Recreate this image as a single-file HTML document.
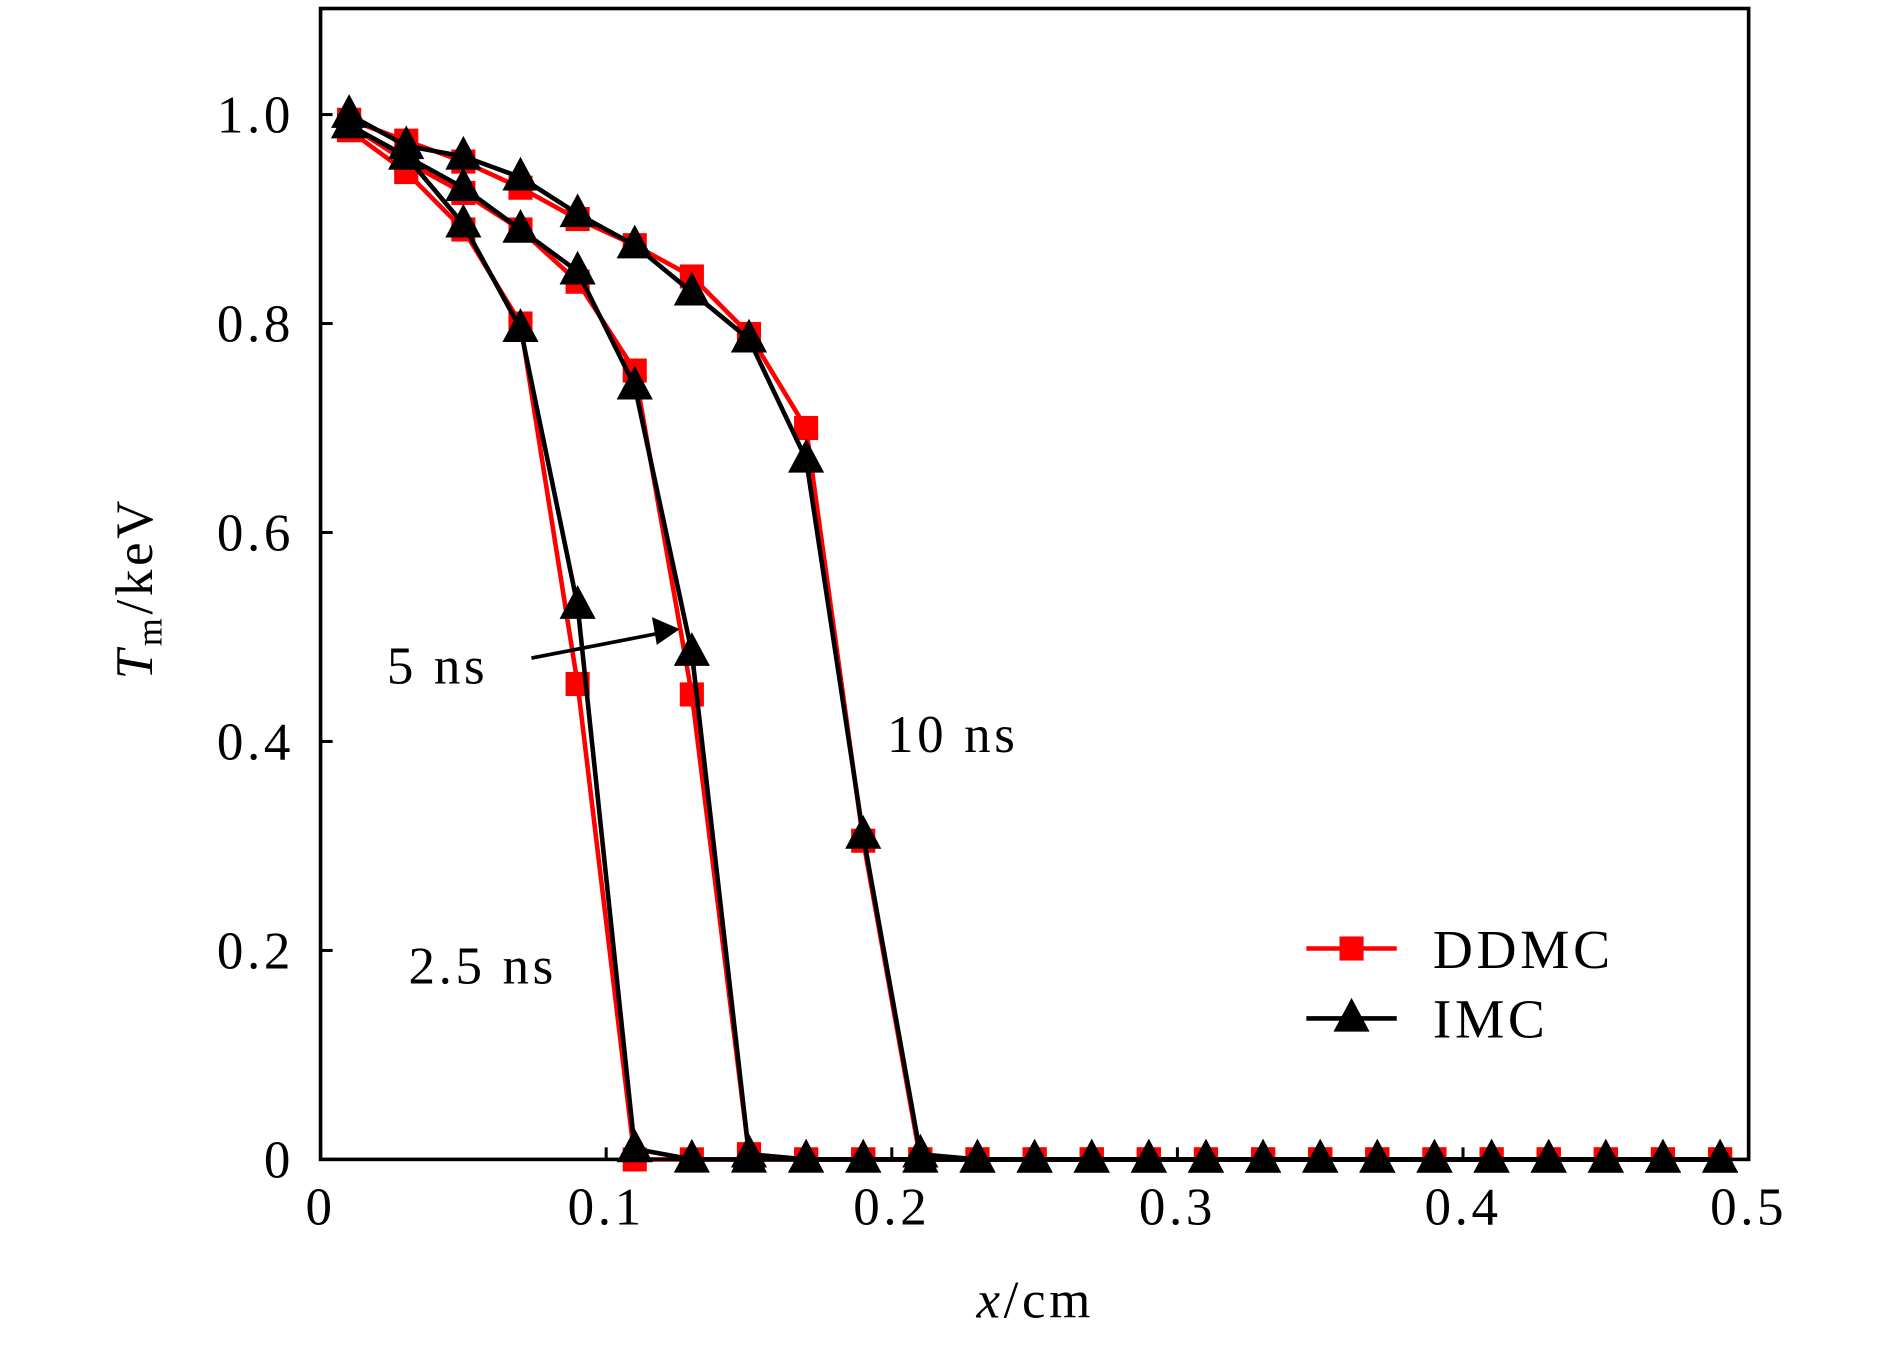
<!DOCTYPE html>
<html><head><meta charset="utf-8"><style>
html,body{margin:0;padding:0;background:#fff;}
svg{display:block;font-family:"Liberation Serif",serif;}
</style></head><body>
<svg id="chart" width="1890" height="1347" viewBox="-1 0 1568.3 1117.6" xmlns="http://www.w3.org/2000/svg">
<g id="marks"></g>
<g id="axes"></g>
</svg>
<script>
const xVals = [0.01,0.03,0.05,0.07,0.09,0.11,0.13,0.15,0.17,0.19,0.21,0.23,0.25,0.27,0.29,0.31,0.33,0.35,0.37,0.39,0.41,0.43,0.45,0.47,0.49];
const ddmc25 = [0.985,0.945,0.89,0.80,0.455,0.0,0,0,0,0,0,0,0,0,0,0,0,0,0,0,0,0,0,0,0];
const imc25  = [0.99,0.96,0.895,0.795,0.53,0.01,0,0,0,0,0,0,0,0,0,0,0,0,0,0,0,0,0,0,0];
const ddmc5  = [0.99,0.955,0.925,0.89,0.84,0.755,0.445,0.005,0,0,0,0,0,0,0,0,0,0,0,0,0,0,0,0,0];
const imc5   = [0.99,0.96,0.93,0.89,0.85,0.74,0.485,0.005,0,0,0,0,0,0,0,0,0,0,0,0,0,0,0,0,0];
const ddmc10 = [0.995,0.975,0.955,0.93,0.90,0.875,0.845,0.79,0.70,0.305,0.0,0,0,0,0,0,0,0,0,0,0,0,0,0,0];
const imc10  = [1.0,0.97,0.96,0.94,0.905,0.875,0.83,0.785,0.67,0.31,0.005,0,0,0,0,0,0,0,0,0,0,0,0,0,0];
const xTicks = [0,0.1,0.2,0.3,0.4,0.5];
const xTickLabels = ["0","0.1","0.2","0.3","0.4","0.5"];
const yTicks = [0,0.2,0.4,0.6,0.8,1.0];
const yTickLabels = ["0","0.2","0.4","0.6","0.8","1.0"];

const L=265,R=1450,T=7,B=962;
const X=v=>L+(v-0)/(0.5)*(R-L);
const Y=v=>B-v*867;
const NS="http://www.w3.org/2000/svg";
function mk(tag,attrs,parent){const e=document.createElementNS(NS,tag);for(const k in attrs)e.setAttribute(k,attrs[k]);parent.appendChild(e);return e;}
const marks=document.getElementById('marks');
const axes=document.getElementById('axes');

function series(vals,color,marker,name){
  const g=mk('g',{},marks);
  
  
  const pts=vals.map((v,i)=>X(xVals[i]).toFixed(1)+','+Y(v).toFixed(1)).join(' ');
  const pl=mk('polyline',{points:pts,fill:'none',stroke:color,'stroke-width':3.8,'stroke-linejoin':'round'},g);
  
  
  vals.forEach((v,i)=>{
    const cx=X(xVals[i]),cy=Y(v);let m;
    if(marker==='sq'){m=mk('rect',{x:cx-10,y:cy-10,width:20,height:20,fill:color},g);}
    else{m=mk('polygon',{points:`${cx},${cy-17} ${cx-15},${cy+11} ${cx+15},${cy+11}`,fill:color},g);}
    
    
  });
}
series(ddmc25,'#ff0000','sq','ddmc-2p5ns');
series(ddmc5,'#ff0000','sq','ddmc-5ns');
series(ddmc10,'#ff0000','sq','ddmc-10ns');
series(imc25,'#000','tri','imc-2p5ns');
series(imc5,'#000','tri','imc-5ns');
series(imc10,'#000','tri','imc-10ns');

const fr=mk('rect',{x:L,y:T,width:R-L,height:B-T,fill:'none',stroke:'#000','stroke-width':3},axes);


xTicks.forEach((v,i)=>{
  const t=mk('line',{x1:X(v),x2:X(v),y1:B,y2:B-10,stroke:'#000','stroke-width':2.5},axes);
  
  
  const tx=mk('text',{x:X(v),y:1016,'font-size':44,'letter-spacing':3,'text-anchor':'middle'},axes);
  tx.textContent=xTickLabels[i];
  
  
});
yTicks.forEach((v,i)=>{
  const t=mk('line',{x1:L,x2:L+10,y1:Y(v),y2:Y(v),stroke:'#000','stroke-width':2.5},axes);
  
  
  const tx=mk('text',{x:243,y:Y(v)+15,'font-size':44,'letter-spacing':3,'text-anchor':'end'},axes);
  tx.textContent=yTickLabels[i];
  
  
});
function txt(s,x,y,name,extra){const t=mk('text',Object.assign({x:x,y:y,'font-size':44,'letter-spacing':3},extra||{}),axes);t.innerHTML=s;return t;}
txt('<tspan font-style="italic">x</tspan>/cm',858,1093,'x-axis-title',{'text-anchor':'middle'});
txt('<tspan font-style="italic">T</tspan><tspan font-size="30" dy="8">m</tspan><tspan dy="-8">/keV</tspan>',0,0,'y-axis-title',{'text-anchor':'middle',transform:'translate(125,488) rotate(-90)'});
txt('5 ns',320,567,'label-5ns');
txt('10 ns',735,624,'label-10ns');
txt('2.5 ns',338,816,'label-2p5ns');
const ar=mk('line',{x1:440,y1:546,x2:548,y2:525,stroke:'#000','stroke-width':3},axes);


const ah=mk('polygon',{points:'563,522 540,512 544,535',fill:'#000'},axes);


const lg=mk('g',{},axes);


const l1=mk('line',{x1:1083,x2:1158,y1:787,y2:787,stroke:'#ff0000','stroke-width':3.8},lg);


const r1=mk('rect',{x:1110.5,y:777,width:20,height:20,fill:'#ff0000'},lg);


const t1=mk('text',{x:1188,y:803,'font-size':46,'letter-spacing':3},lg);t1.textContent='DDMC';


const l2=mk('line',{x1:1083,x2:1158,y1:845,y2:845,stroke:'#000','stroke-width':3.8},lg);


const p2=mk('polygon',{points:'1120.5,828 1105.5,856 1135.5,856',fill:'#000'},lg);


const t2=mk('text',{x:1188,y:861,'font-size':46,'letter-spacing':3},lg);t2.textContent='IMC';


</script>
</body></html>
